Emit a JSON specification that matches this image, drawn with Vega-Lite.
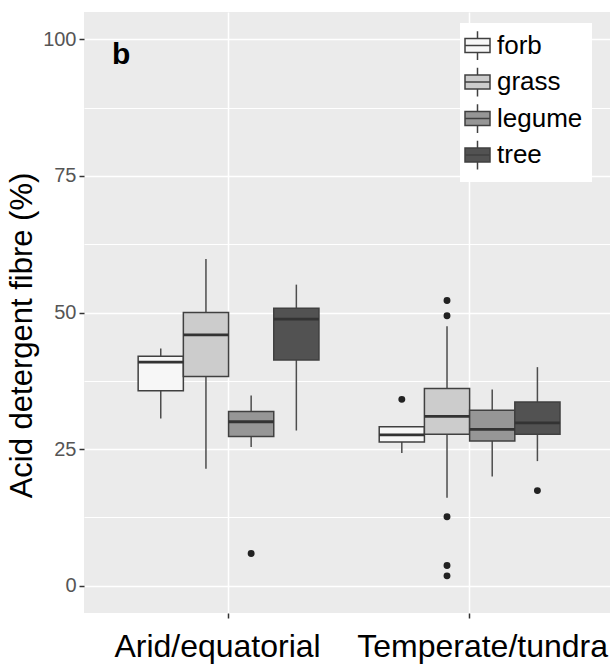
{
  "$schema": "https://vega.github.io/schema/vega-lite/v6.json",
  "width": 526,
  "height": 601,
  "autosize": {"type": "none"},
  "padding": {"left": 84, "top": 12, "right": 0, "bottom": 53},
  "title": {"text": "b", "anchor": "start", "frame": "group", "orient": "top", "offset": 0, "baseline": "top", "dx": 28, "dy": 58, "fontSize": 30, "fontWeight": "bold", "color": "black", "font": "Liberation Sans"},
  "config": {
    "view": {"fill": "#ebebeb", "stroke": null},
    "font": "Liberation Sans"
  },
  "datasets": {
    "boxes": [
      {"region": "Arid/equatorial", "type": "forb", "lower": 30.6, "q1": 35.7, "median": 40.9, "q3": 42.0, "upper": 43.4},
      {"region": "Arid/equatorial", "type": "grass", "lower": 21.4, "q1": 38.3, "median": 45.9, "q3": 50.0, "upper": 59.8},
      {"region": "Arid/equatorial", "type": "legume", "lower": 25.4, "q1": 27.3, "median": 30.0, "q3": 31.9, "upper": 34.8},
      {"region": "Arid/equatorial", "type": "tree", "lower": 28.4, "q1": 41.3, "median": 48.8, "q3": 50.8, "upper": 55.1},
      {"region": "Temperate/tundra", "type": "forb", "lower": 24.3, "q1": 26.3, "median": 27.6, "q3": 29.1, "upper": 29.2},
      {"region": "Temperate/tundra", "type": "grass", "lower": 16.1, "q1": 27.7, "median": 31.0, "q3": 36.1, "upper": 47.5},
      {"region": "Temperate/tundra", "type": "legume", "lower": 20.0, "q1": 26.5, "median": 28.6, "q3": 32.1, "upper": 35.9},
      {"region": "Temperate/tundra", "type": "tree", "lower": 22.8, "q1": 27.7, "median": 29.8, "q3": 33.6, "upper": 40.0}
    ],
    "outliers": [
      {"region": "Arid/equatorial", "type": "legume", "value": 5.9},
      {"region": "Temperate/tundra", "type": "forb", "value": 34.1},
      {"region": "Temperate/tundra", "type": "grass", "value": 52.2},
      {"region": "Temperate/tundra", "type": "grass", "value": 49.4},
      {"region": "Temperate/tundra", "type": "grass", "value": 12.6},
      {"region": "Temperate/tundra", "type": "grass", "value": 3.7},
      {"region": "Temperate/tundra", "type": "grass", "value": 1.8},
      {"region": "Temperate/tundra", "type": "tree", "value": 17.4}
    ]
  },
  "encoding": {
    "x": {
      "field": "region", "type": "nominal",
      "sort": ["Arid/equatorial", "Temperate/tundra"],
      "scale": {"paddingInner": 0.25, "paddingOuter": 0.216, "align": 0.52},
      "axis": {
        "title": null, "labelAngle": 0, "labelFontSize": 32, "labelColor": "black", "labelLimit": 0,
        "labelOffset": {"condition": {"test": "datum.value === 'Arid/equatorial'", "value": -11}, "value": 13},
        "labelPadding": 13, "tickSize": 5, "tickColor": "#333333", "tickWidth": 1.5,
        "domain": false, "grid": true, "gridColor": "white", "gridWidth": 1.5
      }
    },
    "xOffset": {
      "field": "type", "type": "nominal",
      "sort": ["forb", "grass", "legume", "tree"],
      "scale": {"paddingInner": 0, "paddingOuter": 0}
    }
  },
  "layer": [
    {
      "data": {"name": "boxes"},
      "mark": {"type": "rule", "color": "#4d4d4d", "strokeWidth": 1.5},
      "encoding": {
        "y": {
          "field": "lower", "type": "quantitative",
          "title": "Acid detergent fibre (%)",
          "scale": {"domain": [-5, 105], "nice": false, "zero": false},
          "axis": {
            "values": [0, 12.5, 25, 37.5, 50, 62.5, 75, 87.5, 100],
            "labelExpr": "datum.value % 25 === 0 ? datum.label : ''",
            "tickOpacity": {"condition": {"test": "datum.value % 25 !== 0", "value": 0}, "value": 1},
            "gridWidth": {"condition": {"test": "datum.value % 25 !== 0", "value": 1.1}, "value": 1.6},
            "gridColor": "white",
            "domain": false,
            "tickSize": 5, "tickColor": "#333333", "tickWidth": 1.5,
            "labelFontSize": 20, "labelColor": "#555555", "labelPadding": 3,
            "titleFontSize": 31, "titleFontWeight": "normal", "titleColor": "black", "titlePadding": 4,
            "titleY": 323
          }
        },
        "y2": {"field": "upper"}
      }
    },
    {
      "data": {"name": "boxes"},
      "mark": {"type": "bar", "stroke": "#404040", "strokeWidth": 1.5, "width": {"band": 1}},
      "encoding": {
        "y": {"field": "q1", "type": "quantitative", "title": "Acid detergent fibre (%)"},
        "y2": {"field": "q3"},
        "fill": {
          "field": "type", "type": "nominal",
          "sort": ["forb", "grass", "legume", "tree"],
          "scale": {"domain": ["forb", "grass", "legume", "tree"], "range": ["#f7f7f7", "#cccccc", "#969696", "#525252"]},
          "legend": {
            "title": null, "orient": "none", "legendX": 376, "legendY": 11,
            "fillColor": "white", "padding": 9,
            "symbolType": "M-1,-0.56H1V0.56H-1Z M-1,0H1 M0,-0.56V-1.15 M0,0.56V1.15",
            "symbolSize": 625, "symbolStrokeColor": "#404040", "symbolStrokeWidth": 1.5,
            "symbolOpacity": 1, "symbolOffset": -5,
            "labelFontSize": 26, "labelColor": "black", "labelOffset": 6,
            "rowPadding": 1.5
          }
        }
      }
    },
    {
      "data": {"name": "boxes"},
      "mark": {"type": "bar", "fill": null, "fillOpacity": 0, "stroke": "#333333", "strokeWidth": 2.8, "width": {"band": 1}},
      "encoding": {
        "y": {"field": "median", "type": "quantitative", "title": "Acid detergent fibre (%)"},
        "y2": {"field": "median"}
      }
    },
    {
      "data": {"name": "outliers"},
      "mark": {"type": "point", "filled": true, "color": "#222222", "size": 48, "opacity": 1},
      "encoding": {
        "y": {"field": "value", "type": "quantitative", "title": "Acid detergent fibre (%)"}
      }
    }
  ]
}
